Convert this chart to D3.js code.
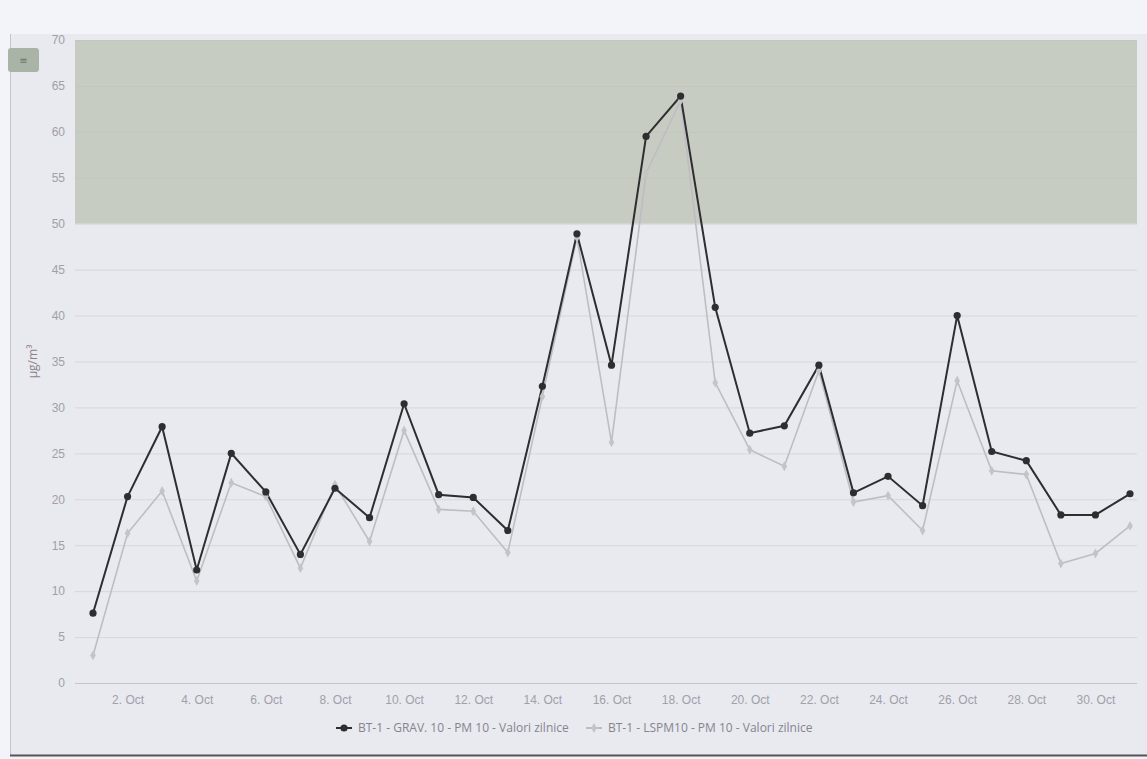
<!DOCTYPE html>
<html>
<head>
<meta charset="utf-8">
<script src="https://cdn.jsdelivr.net/npm/d3@7"></script>
<style>
  html, body { margin: 0; padding: 0; background: #f3f4f9; }
  svg { display: block; font-family: "Open Sans", "DejaVu Sans", sans-serif; }
</style>
</head>
<body>
<div id="chart"></div>
<script>
// daily PM10 values, October (µg/m³)
const days = d3.range(1, 32).map(d => new Date(2017, 9, d));
const gravValues = [7.6, 20.3, 27.9, 12.3, 25.0, 20.8, 14.0, 21.2, 18.0, 30.4, 20.5, 20.2, 16.6, 32.3, 48.9, 34.6,
  59.5, 63.9, 40.9, 27.2, 28.0, 34.6, 20.7, 22.5, 19.3, 40.0, 25.2, 24.2, 18.3, 18.3, 20.6];
const lspmValues = [3.0, 16.3, 20.9, 11.1, 21.8, 20.3, 12.5, 21.6, 15.4, 27.5, 18.9, 18.7, 14.2, 31.2, 48.5, 26.2,
  55.5, 63.4, 32.7, 25.4, 23.6, 34.0, 19.7, 20.4, 16.6, 32.9, 23.1, 22.7, 13.0, 14.1, 17.1];
const seriesNames = ["BT-1 - GRAV. 10 - PM 10 - Valori zilnice", "BT-1 - LSPM10 - PM 10 - Valori zilnice"];
const yTicks = d3.range(0, 71, 5);
const xTickDays = d3.range(2, 31, 2).map(d => new Date(2017, 9, d));
const bandFrom = 50, bandTo = 70;

const width = 1147, height = 759;
const plot = { left: 75, right: 1137, top: 40, bottom: 683 };

const svg = d3.select("#chart").append("svg")
  .attr("width", width)
  .attr("height", height);

// chart container (photo frame)
svg.append("rect")
  .attr("x", 10).attr("y", 34)
  .attr("width", width - 10).attr("height", 721)
  .attr("fill", "#e9e9f0");
svg.append("line")
  .attr("x1", 10.5).attr("x2", 10.5).attr("y1", 34).attr("y2", 755)
  .attr("stroke", "#c4c4cc").attr("stroke-width", 1);
svg.append("line")
  .attr("x1", 10).attr("x2", width).attr("y1", 755.5).attr("y2", 755.5)
  .attr("stroke", "#555").attr("stroke-width", 2);

// scales
const x = d3.scaleTime()
  .domain([days[0], days[days.length - 1]])
  .range([93, 1130]);
const y = d3.scaleLinear()
  .domain([0, 70])
  .range([plot.bottom, plot.top]);

// plot band 50-70
svg.append("rect")
  .attr("x", plot.left)
  .attr("y", y(bandTo))
  .attr("width", plot.right - plot.left)
  .attr("height", y(bandFrom) - y(bandTo))
  .attr("fill", "#c7ccc3");

// grid + y axis
const yAxis = svg.append("g")
  .attr("transform", "translate(" + plot.left + ",0)")
  .call(d3.axisLeft(y).tickValues(yTicks).tickSize(-(plot.right - plot.left)).tickPadding(10));
yAxis.select(".domain").remove();
yAxis.selectAll(".tick line")
  .attr("stroke", d => d === 0 ? "#c4c4cc" : (d > bandFrom ? "#c2c7be" : "#d6d6de"))
  .attr("stroke-width", 1);
yAxis.selectAll(".tick text")
  .attr("fill", "#a0a0a8")
  .style("font-size", "12px");

// y axis title
svg.append("text")
  .attr("transform", "translate(37," + y(35) + ") rotate(-90)")
  .attr("text-anchor", "middle")
  .attr("fill", "#8e8288")
  .style("font-size", "12px")
  .text("µg/m³");

// x axis
const xAxis = svg.append("g")
  .attr("transform", "translate(0," + plot.bottom + ")")
  .call(d3.axisBottom(x).tickValues(xTickDays).tickSize(0).tickPadding(12)
    .tickFormat(d3.timeFormat("%-d. %b")));
xAxis.select(".domain").remove();
xAxis.selectAll(".tick text")
  .attr("fill", "#a0a0a8")
  .style("font-size", "12px");

// lines
const line = d3.line()
  .x((d, i) => x(days[i]))
  .y(d => y(d));

svg.append("path")
  .datum(lspmValues)
  .attr("d", line)
  .attr("fill", "none")
  .attr("stroke", "#bdbdc2")
  .attr("stroke-width", 1.6);
svg.append("path")
  .datum(gravValues)
  .attr("d", line)
  .attr("fill", "none")
  .attr("stroke", "#2e2e30")
  .attr("stroke-width", 2);

// markers
const diamond = d3.symbol().type(d3.symbolDiamond).size(28);
svg.selectAll(".lspm-pt")
  .data(lspmValues)
  .enter().append("path")
  .attr("class", "lspm-pt")
  .attr("transform", (d, i) => "translate(" + x(days[i]) + "," + y(d) + ")")
  .attr("d", diamond)
  .attr("fill", "#c4c4c8");
svg.selectAll(".grav-pt")
  .data(gravValues)
  .enter().append("circle")
  .attr("class", "grav-pt")
  .attr("cx", (d, i) => x(days[i]))
  .attr("cy", d => y(d))
  .attr("r", 3.6)
  .attr("fill", "#2e2e30");

// legend
const legend = svg.append("g").attr("transform", "translate(336,728)");
const legendItems = [
  { name: seriesNames[0], color: "#2e2e30", x: 0 },
  { name: seriesNames[1], color: "#bdbdc2", x: 250 }
];
legendItems.forEach((it, i) => {
  const g = legend.append("g").attr("transform", "translate(" + it.x + ",0)");
  g.append("line")
    .attr("x1", 0).attr("x2", 16).attr("y1", 0).attr("y2", 0)
    .attr("stroke", it.color).attr("stroke-width", 2);
  if (i === 0) {
    g.append("circle").attr("cx", 8).attr("cy", 0).attr("r", 3.6).attr("fill", it.color);
  } else {
    g.append("path").attr("transform", "translate(8,0)").attr("d", diamond).attr("fill", "#c4c4c8");
  }
  g.append("text")
    .attr("x", 22).attr("y", 4)
    .attr("fill", "#85858e")
    .style("font-size", "12px")
    .text(it.name);
});

// export button (top-left)
svg.append("rect")
  .attr("x", 8).attr("y", 48).attr("width", 31).attr("height", 24).attr("rx", 3)
  .attr("fill", "#aab4a6");
svg.append("text")
  .attr("x", 23.5).attr("y", 64)
  .attr("text-anchor", "middle")
  .attr("fill", "#6f776c")
  .style("font-size", "10px")
  .text("≡");
</script>
</body>
</html>
